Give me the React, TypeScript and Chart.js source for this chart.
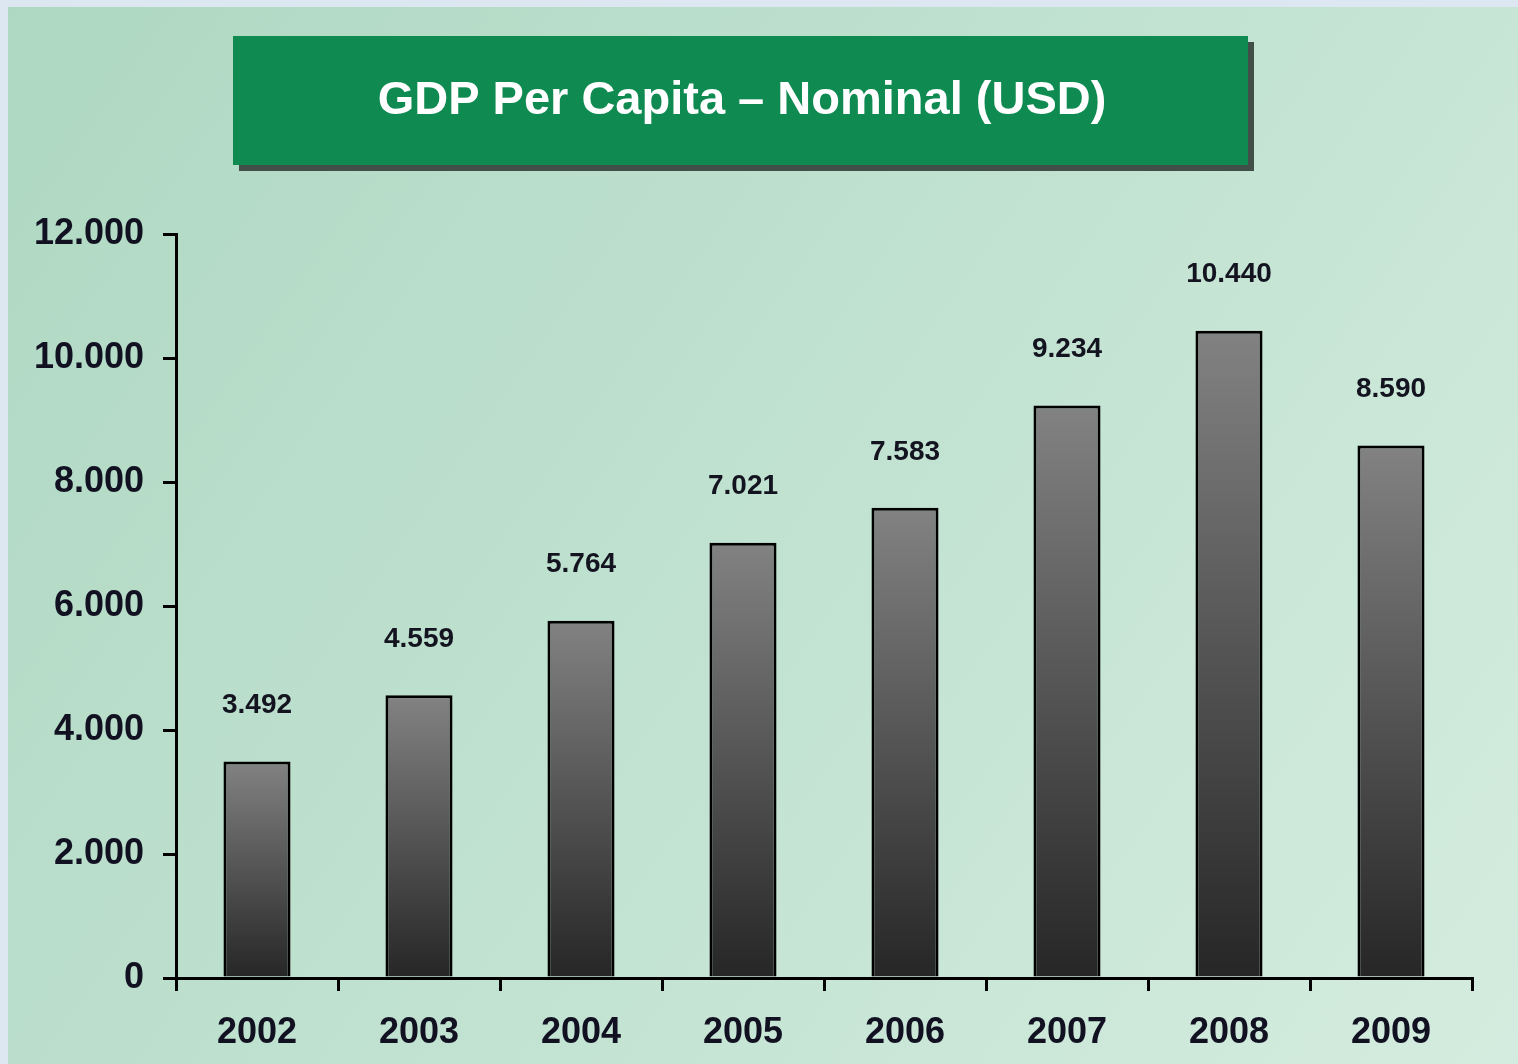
import { useEffect, useRef } from "react";
import { Chart, registerables } from "chart.js";

Chart.register(...registerables);

const years = ["2002", "2003", "2004", "2005", "2006", "2007", "2008", "2009"];
const gdpPerCapita = [3492, 4559, 5764, 7021, 7583, 9234, 10440, 8590];
const yTickValues = [0, 2000, 4000, 6000, 8000, 10000, 12000];
const titleText = "GDP Per Capita – Nominal (USD)";

const W = 1518;
const H = 1064;
const FONT = "'Liberation Sans', Arial, sans-serif";

const fmt = (v: number) =>
  String(Math.round(v)).replace(/\B(?=(\d{3})+(?!\d))/g, ".");

const backgroundPlugin = {
  id: "panelBackground",
  beforeDraw(chart: any) {
    const ctx = chart.ctx as CanvasRenderingContext2D;
    ctx.save();
    ctx.fillStyle = "#dce7f2";
    ctx.fillRect(0, 0, W, H);
    const g = ctx.createLinearGradient(8, 7, W, H);
    g.addColorStop(0, "#aed8c2");
    g.addColorStop(1, "#d4ecdf");
    ctx.fillStyle = g;
    ctx.fillRect(8, 7, W - 8, H - 7);
    // title box with shadow
    ctx.fillStyle = "#424e48";
    ctx.fillRect(239, 42, 1015, 129);
    ctx.fillStyle = "#0f8b52";
    ctx.fillRect(233, 36, 1015, 129);
    ctx.fillStyle = "#ffffff";
    ctx.font = `bold 47px ${FONT}`;
    ctx.textAlign = "center";
    ctx.textBaseline = "middle";
    ctx.fillText(titleText, 742, 101);
    ctx.restore();
  },
};

const valueLabelPlugin = {
  id: "valueLabels",
  afterDatasetsDraw(chart: any) {
    const ctx = chart.ctx as CanvasRenderingContext2D;
    const meta = chart.getDatasetMeta(0);
    ctx.save();
    ctx.fillStyle = "#141420";
    ctx.font = `bold 28px ${FONT}`;
    ctx.textAlign = "center";
    ctx.textBaseline = "middle";
    meta.data.forEach((el: any, i: number) => {
      ctx.fillText(fmt(gdpPerCapita[i]), el.x, el.y - 56);
    });
    ctx.restore();
  },
};

export default function App() {
  const ref = useRef<HTMLCanvasElement | null>(null);

  useEffect(() => {
    document.body.style.margin = "0";
    if (!ref.current) return;
    const chart = new Chart(ref.current, {
      type: "bar",
      data: {
        labels: years,
        datasets: [
          {
            data: gdpPerCapita,
            barPercentage: 0.414,
            categoryPercentage: 1,
            borderColor: "#000000",
            borderWidth: 3,
            backgroundColor: (c: any) => {
              const chart = c.chart;
              const y = chart.scales?.y;
              if (!chart.chartArea || !y || typeof c.raw !== "number") return "#555555";
              const top = y.getPixelForValue(c.raw);
              const bottom = y.getPixelForValue(0);
              const g = chart.ctx.createLinearGradient(0, top, 0, bottom);
              g.addColorStop(0, "#828282");
              g.addColorStop(1, "#262626");
              return g;
            },
          },
        ],
      },
      options: {
        responsive: false,
        animation: false,
        layout: { padding: { left: 0, top: 234, right: 46, bottom: 0 } },
        plugins: {
          legend: { display: false },
          tooltip: { enabled: false },
          title: { display: false },
        },
        scales: {
          x: {
            afterFit: (s: any) => {
              s.height = 86;
            },
            border: { display: true, color: "#000000", width: 3 },
            grid: {
              display: true,
              offset: true,
              drawOnChartArea: false,
              drawTicks: true,
              tickLength: 13,
              color: "#000000",
              lineWidth: 3,
            },
            ticks: {
              color: "#111122",
              font: { family: FONT, size: 36, weight: "bold" },
              padding: 20,
            },
          },
          y: {
            min: 0,
            max: 12000,
            afterFit: (s: any) => {
              s.width = 176;
            },
            afterBuildTicks: (s: any) => {
              s.ticks = yTickValues.map((v) => ({ value: v }));
            },
            border: { display: true, color: "#000000", width: 3 },
            grid: {
              display: true,
              drawOnChartArea: false,
              drawTicks: true,
              tickLength: 13,
              color: "#000000",
              lineWidth: 3,
            },
            ticks: {
              color: "#111122",
              font: { family: FONT, size: 36, weight: "bold" },
              padding: 19,
              callback: (v: any) => fmt(Number(v)),
            },
          },
        },
      },
      plugins: [backgroundPlugin, valueLabelPlugin],
    });
    return () => chart.destroy();
  }, []);

  return (
    <canvas
      ref={ref}
      width={W}
      height={H}
      style={{ display: "block", width: W, height: H }}
    />
  );
}
